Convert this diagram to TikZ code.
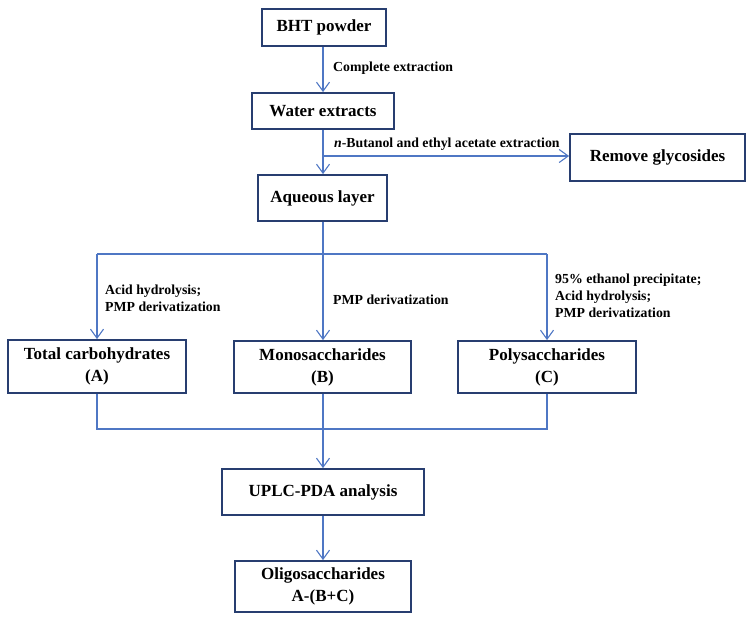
\documentclass[tikz,border=0pt]{standalone}
\usepackage{fontspec}
\setmainfont{Liberation Serif}
\usetikzlibrary{arrows.meta}
\definecolor{lineblue}{RGB}{79,119,196}
\definecolor{boxblue}{RGB}{40,62,112}
\tikzset{
  box/.style={draw=boxblue, line width=1.8pt, fill=white, inner sep=0pt, align=center,
    font=\bfseries\fontsize{17}{22}\selectfont},
  conn/.style={draw=lineblue, line width=1.2pt},
  arr/.style={conn, -{Straight Barb[length=9pt,width=13pt,line width=1.1pt]}},
  lab/.style={font=\bfseries\fontsize{13.8}{17}\selectfont, align=left, inner sep=0pt, anchor=west}
}
\begin{document}
\begin{tikzpicture}[x=1pt,y=-1pt]
\useasboundingbox (0,0) rectangle (754,621);
% boxes
\node[box, minimum width=124pt, minimum height=37pt] (bht) at (324,27.5) {BHT powder};
\node[box, minimum width=142pt, minimum height=36pt] (water) at (323,111) {Water extracts};
\node[box, minimum width=129pt, minimum height=46pt] (aq) at (322.5,198) {Aqueous layer};
\node[box, minimum width=175pt, minimum height=47pt] (remove) at (657.5,157.5) {Remove glycosides};
\node[box, minimum width=178pt, minimum height=53pt] (total) at (97,366.5) {Total carbohydrates\\(A)};
\node[box, minimum width=177pt, minimum height=52pt] (mono) at (322.5,367) {Monosaccharides\\(B)};
\node[box, minimum width=178pt, minimum height=52pt] (poly) at (547,367) {Polysaccharides\\(C)};
\node[box, minimum width=202pt, minimum height=46pt] (uplc) at (323,492) {UPLC-PDA analysis};
\node[box, minimum width=176pt, minimum height=51pt] (oligo) at (323,586.5) {Oligosaccharides\\A-(B+C)};
% junction coordinates
\coordinate (j1) at (323,156);
\coordinate (j2) at (323,254);
\coordinate (l2) at (97,254);
\coordinate (r2) at (547,254);
\coordinate (j3) at (323,429);
\coordinate (l3) at (97,429);
\coordinate (r3) at (547,429);
% connectors
\draw[arr] (bht.south -| j1) -- (water.north -| j1);
\draw[arr] (water.south -| j1) -- (aq.north -| j1);
\draw[arr] (j1) -- (remove.west |- j1);
\draw[conn] (aq.south -| j2) -- (j2);
\draw[conn] (l2) -- (r2);
\draw[arr] (l2) -- (total.north);
\draw[arr] (j2) -- (mono.north -| j2);
\draw[arr] (r2) -- (poly.north);
\draw[conn] (total.south) -- (l3) -- (r3) -- (poly.south);
\draw[conn] (mono.south -| j3) -- (j3);
\draw[arr] (j3) -- (uplc.north -| j3);
\draw[arr] (uplc.south -| j3) -- (oligo.north -| j3);
% labels
\node[lab] (l1) at (333,68) {Complete extraction};
\node[lab] (l2t) at (334,144) {\textit{n}-Butanol and ethyl acetate extraction};
\node[lab] (l3t) at (105,298.5) {Acid hydrolysis;\\PMP derivatization};
\node[lab] (l4t) at (333,300) {PMP derivatization};
\node[lab] (l5t) at (555,296) {95\% ethanol precipitate;\\Acid hydrolysis;\\PMP derivatization};
\end{tikzpicture}
\end{document}
